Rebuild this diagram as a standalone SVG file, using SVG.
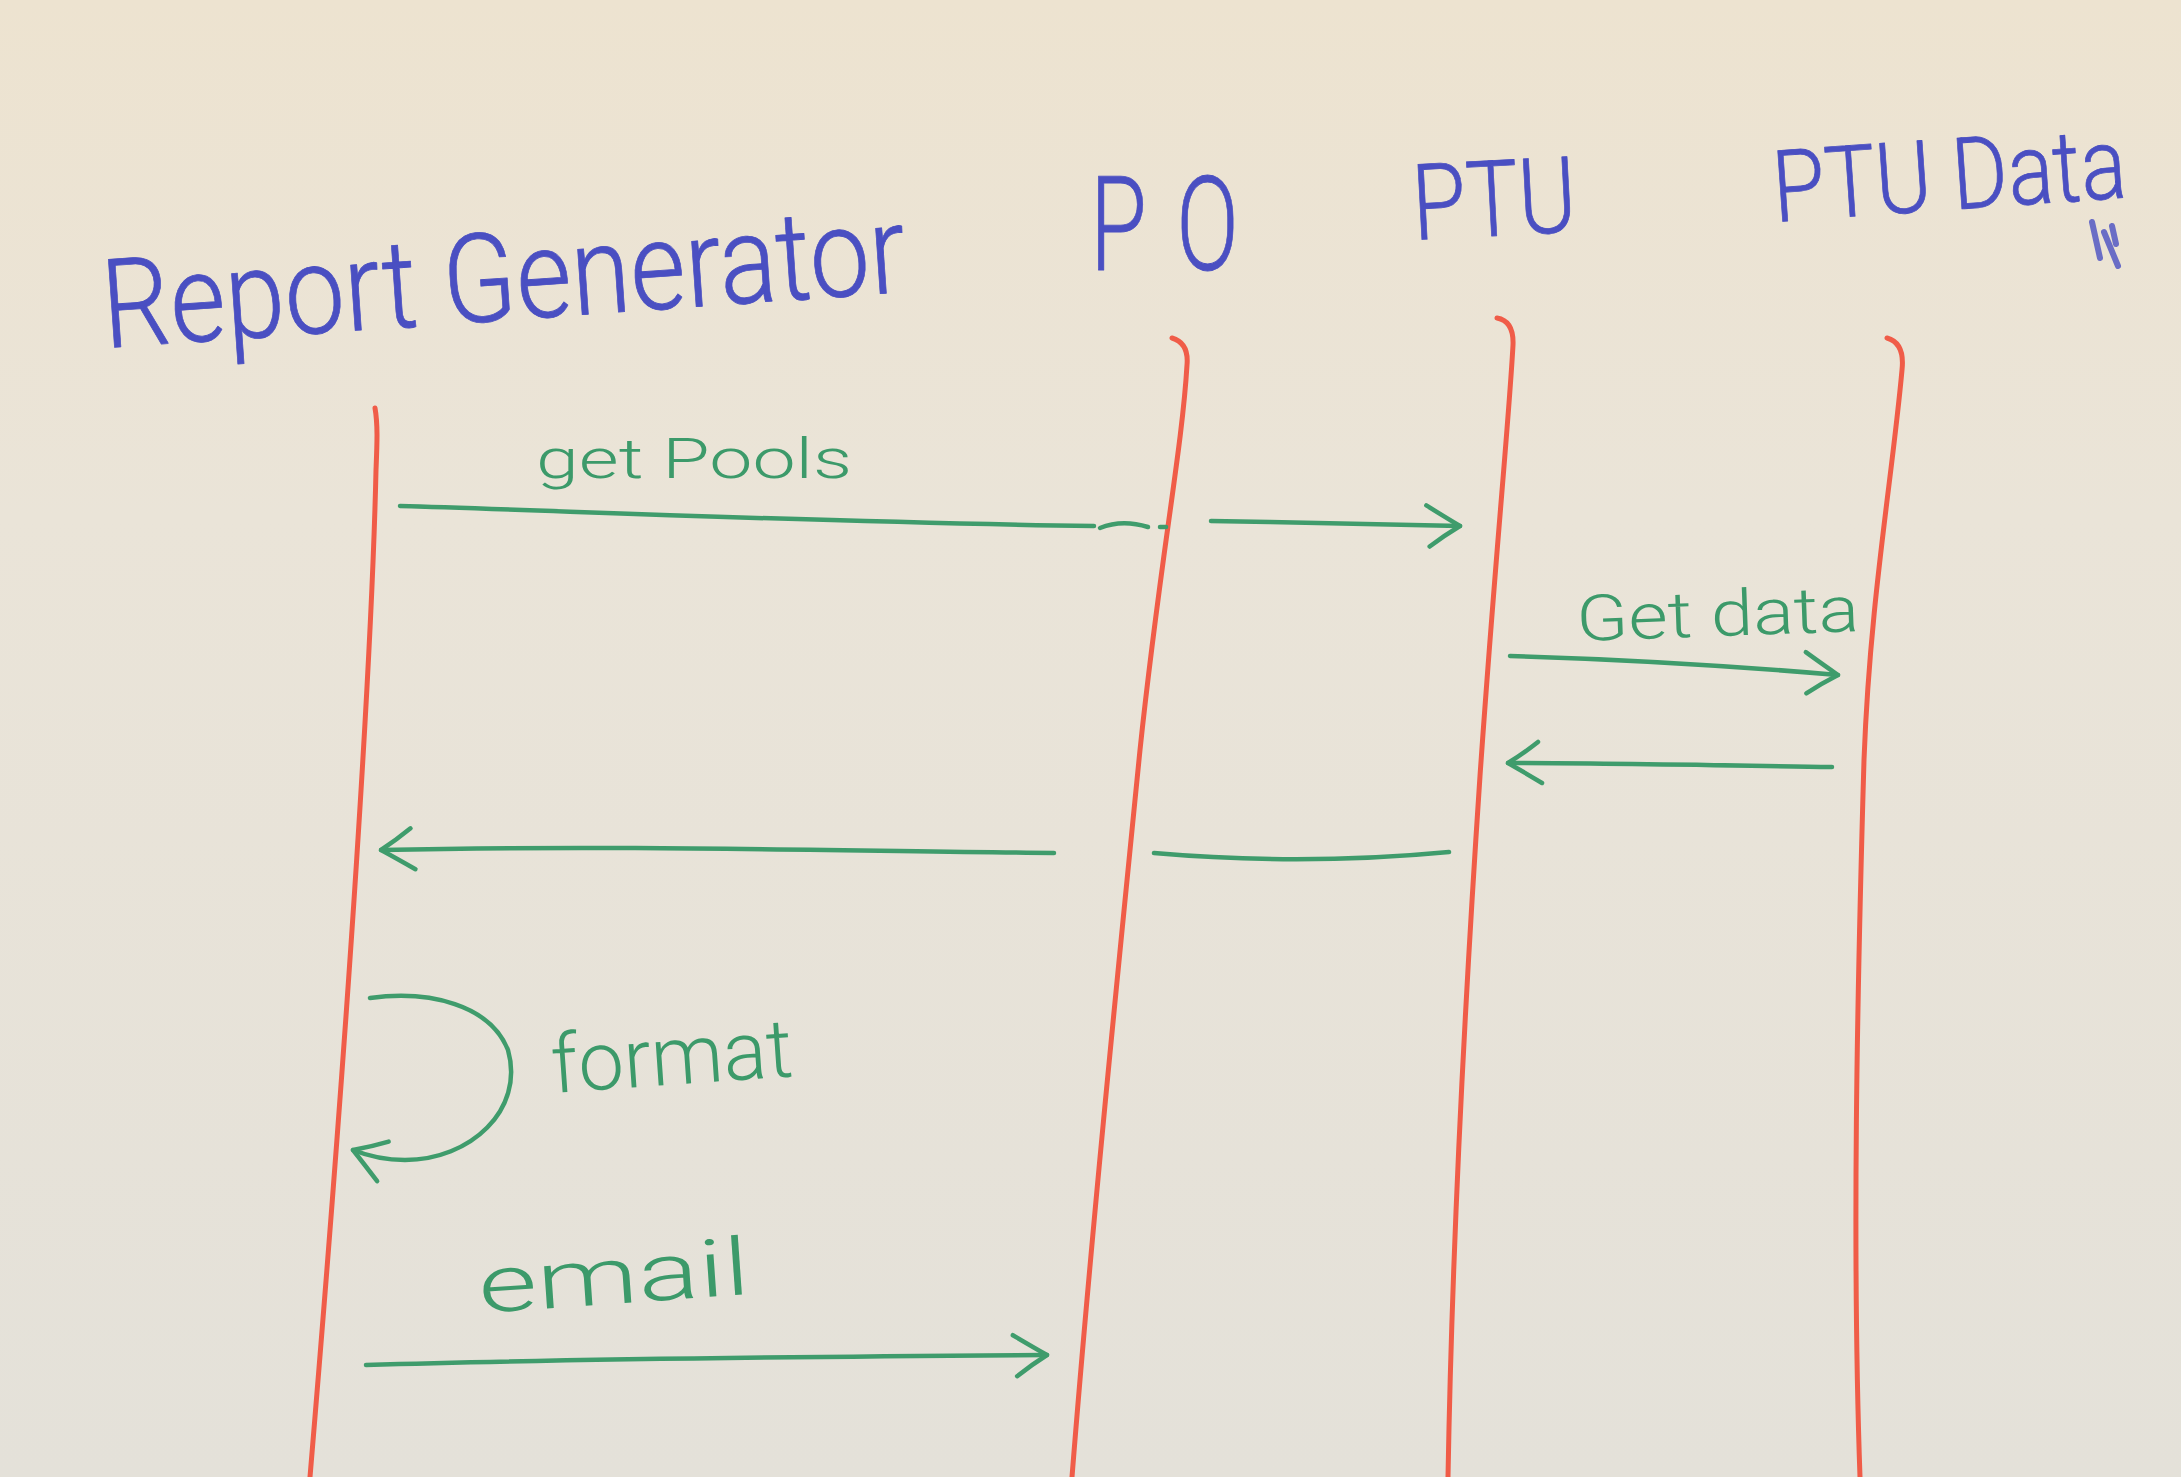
<svg xmlns="http://www.w3.org/2000/svg" width="2181" height="1477" viewBox="0 0 2181 1477">
<style>
.hdr{font-family:Roboto,"Liberation Sans",sans-serif;font-weight:300;fill:#4a4fc2;stroke:#4a4fc2;stroke-width:0.8;stroke-linejoin:round}
.lbl{font-family:Roboto,"Liberation Sans",sans-serif;font-weight:300;fill:#3c9a6a}
.life{fill:none;stroke:#f05c48;stroke-width:5;stroke-linecap:round}
.msg{fill:none;stroke:#3f9c6c;stroke-width:4.5;stroke-linecap:round;stroke-linejoin:round}
.arr{marker-end:url(#head)}
</style>
<defs>
<linearGradient id="bg" x1="0" y1="0" x2="0" y2="1">
<stop offset="0" stop-color="#ede3d0"/>
<stop offset="0.35" stop-color="#eae4d8"/>
<stop offset="1" stop-color="#e4e1d9"/>
</linearGradient>
<marker id="head" markerUnits="userSpaceOnUse" viewBox="0 0 44 52" refX="40" refY="26" markerWidth="44" markerHeight="52" orient="auto">
<path d="M6,6 Q26,18 40,26 Q24,36 10,47" fill="none" stroke="#3f9c6c" stroke-width="4.5" stroke-linecap="round" stroke-linejoin="round"/>
</marker>
</defs>
<rect width="2181" height="1477" fill="url(#bg)"/>

<g id="node-report-generator">
<path class="life" d="M375,408 C378,425 377,445 376,470 C372,650 350,1000 310,1477"/>
<text class="hdr" x="105" y="348" font-size="124" textLength="805" lengthAdjust="spacingAndGlyphs" transform="rotate(-4 105 348)">Report Generator</text>
</g>

<g id="node-po">
<path class="life" d="M1172,338 Q1189,343 1187,365 C1182,450 1160,560 1140,750 C1115,1000 1090,1250 1072,1477"/>
<text class="hdr" x="0" y="0" font-size="132" letter-spacing="42" transform="translate(1090 270) scale(0.7 1)">PO</text>
</g>

<g id="node-ptu">
<path class="life" d="M1497,318 Q1514,321 1513,345 C1509,420 1495,560 1480,776 C1465,1000 1452,1250 1448,1477"/>
<text class="hdr" x="1414" y="240" font-size="106" textLength="164" lengthAdjust="spacingAndGlyphs" transform="rotate(-3 1414 240)">PTU</text>
</g>

<g id="node-ptu-data">
<path class="life" d="M1887,338 Q1905,343 1902,370 C1892,480 1870,600 1864,760 C1857,1000 1852,1250 1860,1477"/>
<text class="hdr" x="1775" y="222" font-size="100" textLength="354" lengthAdjust="spacingAndGlyphs" transform="rotate(-4 1775 222)">PTU Data</text>
<path d="M2092,222 L2100,258 M2104,232 L2118,266 M2112,226 L2116,244" fill="none" stroke="#4a4fc2" stroke-width="6" stroke-linecap="round" opacity="0.8"/>
</g>

<g id="connectors">
<g id="msg-get-pools">
<path class="msg" d="M400,506 C550,510 800,522 1094,526"/>
<path class="msg" d="M1100,528 Q1122,519 1148,527"/>
<path class="msg" d="M1160,527 L1166,527"/>
<path class="msg arr" d="M1211,521 C1300,522 1400,525 1460,526"/>
<text class="lbl" x="536" y="478" font-size="56" textLength="316" lengthAdjust="spacingAndGlyphs">get Pools</text>
</g>
<g id="msg-get-data">
<path class="msg arr" d="M1510,656 C1650,660 1780,670 1838,675"/>
<text class="lbl" x="1577" y="641" font-size="64" textLength="283" lengthAdjust="spacingAndGlyphs" transform="rotate(-2 1577 641)">Get data</text>
</g>
<g id="msg-data-return">
<path class="msg arr" d="M1832,767 C1700,765 1600,763 1508,763"/>
</g>
<g id="msg-pools-return">
<path class="msg" d="M1449,852 Q1302,866 1154,853"/>
<path class="msg arr" d="M1054,853 C800,850 600,845 381,850"/>
</g>
<g id="msg-format">
<path class="msg arr" d="M370,998 C430,990 490,1005 508,1050 C525,1110 470,1160 405,1160 C385,1160 368,1156 353,1150"/>
<text class="lbl" x="553" y="1093" font-size="82" textLength="242" lengthAdjust="spacingAndGlyphs" transform="rotate(-4 553 1093)">format</text>
</g>
<g id="msg-email">
<path class="msg arr" d="M366,1365 C600,1358 900,1356 1047,1355"/>
<text class="lbl" x="480" y="1313" font-size="80" textLength="272" lengthAdjust="spacingAndGlyphs" transform="rotate(-4 480 1313)">email</text>
</g>
</g>
</svg>
